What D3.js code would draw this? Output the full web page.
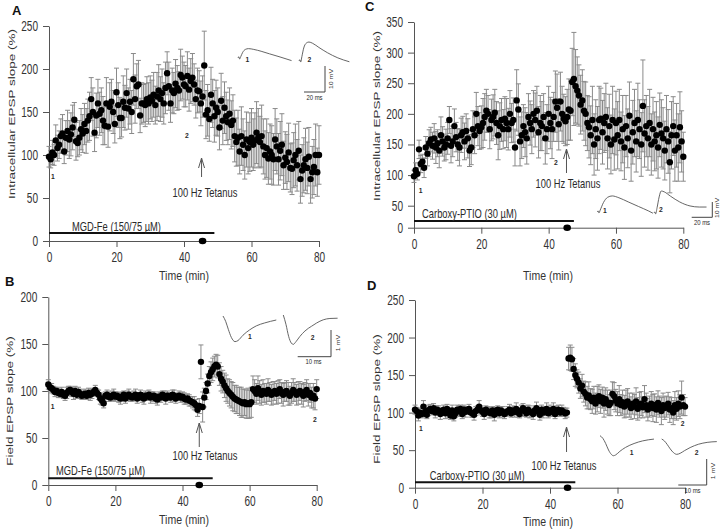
<!DOCTYPE html>
<html><head><meta charset="utf-8">
<script src="https://cdn.jsdelivr.net/npm/d3@7"></script>
<style>
body{margin:0;background:#fff}
text{font-family:"Liberation Sans",Arial,Helvetica,sans-serif;fill:#222}
</style>
</head><body>
<svg id="fig" width="720" height="530"></svg>
<script>
// ---------------- DATA ----------------
const STEP_MIN = 0.5;            // sampling interval of the plotted points (min)
const xTicks = [0, 20, 40, 60, 80];
const yTicksA = [0, 50, 100, 150, 200, 250];
const yTicksB = [0, 50, 100, 150, 200];
const yTicksC = [0, 50, 100, 150, 200, 250, 300, 350];
const yTicksD = [0, 50, 100, 150, 200, 250];

const meanA = [
 98,95,103,100,117,108,112,122,125,104,
 120,128,118,124,132,141,116,114,120,130,
 125,136,128,140,145,165,150,126,146,160,
 148,152,140,134,160,133,156,162,150,136,
 173,158,143,143,162,155,172,154,162,150,
 188,165,180,182,146,160,160,158,165,160,
 167,163,170,158,168,175,165,172,160,178,
 195,180,160,175,172,183,178,175,193,190,
 182,180,192,176,186,190,182,165,175,174,
 160,168,204,147,152,142,170,160,145,155,
 150,132,163,140,155,145,138,148,135,140,
 122,115,120,104,122,112,100,118,108,115,
 120,112,117,126,120,115,122,110,100,108,
 96,104,100,95,118,110,95,105,112,88,
 97,92,103,85,84,94,100,88,105,72,
 82,88,95,85,98,72,80,86,100,80,
 100];
const errA = [
 12,10,14,12,18,15,16,20,22,14,
 20,24,22,25,26,20,22,16,20,24,
 22,24,26,25,28,25,28,22,26,28,
 25,26,28,22,30,24,28,26,25,22,
 28,26,24,22,30,26,28,24,26,25,
 30,28,26,28,20,24,22,25,26,24,
 25,24,26,22,28,30,26,28,24,30,
 25,28,22,26,24,28,26,22,30,25,
 26,24,28,25,26,28,24,22,26,24,
 26,24,40,28,30,26,32,28,30,32,
 28,26,32,28,30,28,26,30,28,30,
 30,28,32,26,34,30,28,32,30,34,
 34,30,32,36,34,30,36,32,28,34,
 30,32,34,30,36,32,30,34,36,28,
 30,32,34,28,30,32,36,30,34,28,
 30,32,36,30,34,28,30,32,36,28,
 34];

const meanB = [
 107,104,103,101,99,100,98,97,99,96,
 95,98,100,101,99,97,100,96,99,97,
 95,96,97,95,98,96,97,99,101,98,
 96,92,90,87,95,96,94,93,95,96,
 94,95,93,92,94,96,92,95,96,94,
 93,95,96,92,94,96,93,92,95,94,
 96,93,94,95,92,91,94,93,96,95,
 92,95,94,93,96,95,92,94,95,93,
 94,92,91,92,90,89,88,87,85,80,
 84,131,83,93,100,108,116,120,123,126,
 128,126,118,113,110,106,103,100,98,96,
 94,92,91,90,89,88,87,88,86,87,
 86,88,102,100,97,103,99,96,100,98,
 97,101,99,96,98,100,97,99,102,98,
 96,99,100,97,95,98,101,99,96,98,
 100,97,95,99,101,96,98,93,95,92,
 102];
const errB = [
 5,4,5,4,5,4,5,4,5,4,
 5,6,5,4,5,6,5,4,5,5,
 4,5,5,4,5,6,5,4,5,4,
 5,6,5,5,4,5,5,4,5,6,
 5,4,5,6,5,4,5,5,6,5,
 4,5,6,5,4,5,5,6,5,4,
 5,6,5,4,5,6,5,5,4,5,
 6,5,4,5,5,6,5,4,5,5,
 5,6,5,5,6,5,6,7,6,7,
 8,18,16,10,9,10,10,11,12,11,
 11,12,12,13,12,13,14,13,14,14,
 15,14,15,14,15,16,15,14,15,16,
 15,16,14,12,11,13,12,11,12,10,
 11,12,10,11,12,10,11,12,10,11,
 12,10,11,12,10,11,12,10,11,12,
 10,11,12,10,11,12,10,11,13,12,
 10];

const meanC = [
 98,108,102,142,118,122,112,145,135,152,
 158,148,160,145,152,140,165,155,145,150,
 160,190,148,155,180,162,150,145,165,170,
 155,172,160,140,145,175,165,200,180,172,
 178,185,195,205,200,175,190,195,202,185,
 165,180,190,175,192,185,175,200,185,190,
 145,222,207,155,165,180,170,160,195,185,
 175,200,190,205,170,185,180,195,160,175,
 200,185,175,195,220,210,183,220,200,192,
 188,195,207,205,252,257,245,238,230,215,
 222,205,200,185,178,165,190,150,175,160,
 190,192,170,185,195,160,180,150,190,158,
 185,165,190,155,175,145,180,160,197,140,
 170,185,155,190,175,150,213,168,180,160,
 185,150,175,155,165,145,182,168,160,140,
 175,155,121,165,180,140,165,145,178,155,
 130];
const errC = [
 10,12,10,15,14,12,16,18,20,22,
 20,22,24,26,22,28,30,24,22,25,
 26,22,28,25,28,24,26,30,28,26,
 30,28,32,26,28,30,30,35,32,30,
 35,40,38,35,30,32,34,36,38,35,
 40,38,35,32,36,40,34,38,32,36,
 30,50,42,40,38,35,40,42,38,36,
 40,38,44,40,42,45,40,38,42,40,
 45,42,48,40,50,55,42,48,45,40,
 40,45,50,48,55,76,60,55,50,48,
 50,48,52,45,50,48,55,50,48,52,
 55,50,52,48,55,50,52,48,55,50,
 52,55,50,48,55,52,50,48,55,50,
 52,55,50,60,48,52,75,55,50,52,
 55,50,52,48,55,50,52,55,50,48,
 55,52,50,55,48,50,52,55,58,50,
 40];

const meanD = [
 104,102,96,100,98,108,101,97,103,105,
 102,106,100,104,103,98,101,104,99,105,
 100,96,103,95,99,104,102,105,98,104,
 101,103,105,100,99,97,102,104,108,103,
 101,98,104,102,100,99,103,97,101,104,
 99,103,101,98,100,102,104,99,103,101,
 105,100,98,103,106,102,99,104,101,100,
 98,103,106,101,97,104,100,102,105,99,
 103,101,105,98,102,104,100,103,101,99,
 100,172,173,171,158,150,145,140,132,136,
 128,125,120,123,118,115,120,112,118,122,
 115,120,112,118,114,110,113,125,122,116,
 112,118,110,114,108,112,115,110,106,112,
 108,115,105,110,112,107,118,110,104,108,
 112,106,110,104,113,108,102,110,106,108,
 112,104,106,100,110,105,112,108,120,110,
 108];
const errD = [
 6,5,7,6,5,8,6,5,7,6,
 5,6,7,5,6,7,5,6,7,6,
 6,5,7,6,5,6,7,5,6,6,
 7,5,6,6,5,7,6,5,8,6,
 6,7,5,6,7,6,5,8,6,5,
 6,5,7,6,5,6,7,5,6,7,
 8,6,5,7,6,7,5,6,8,6,
 7,6,8,5,7,6,7,6,8,6,
 7,6,8,6,7,6,5,7,6,7,
 6,15,17,16,14,15,12,14,13,15,
 14,16,15,18,14,16,15,14,17,15,
 16,14,18,15,16,14,17,16,18,15,
 16,18,14,16,15,18,17,16,15,14,
 16,18,15,17,16,14,18,16,15,14,
 16,18,15,17,16,14,18,16,15,14,
 15,17,14,16,18,15,17,16,22,14,
 12];

// drug application bars (min) and labels
const drugA = {label: "MGD-Fe (150/75 µM)", start: 0, end: 49, labelAt: 6.8};
const drugB = {label: "MGD-Fe (150/75 µM)", start: 0, end: 49, labelAt: 2.3};
const drugC = {label: "Carboxy-PTIO (30 µM)", start: 0, end: 47.5, labelAt: 2.4};
const drugD = {label: "Carboxy-PTIO (30 µM)", start: 0, end: 47.5, labelAt: 4.4};
const tetanusLabel = "100 Hz Tetanus";
const tetanusMin = [45.2, 45.0, 45.3, 44.9];   // A, B, C, D
const markerMin  = [45.5, 45.0, 45.5, 45.2];   // filled dot on the time axis

// sample traces [ms, mV]
const traceA1 = [[0,0],[0.8,0.5],[1.6,-0.4],[2.6,0.5],[4.5,2.2],[7,3.3],[10,3.6],[15,3.3],[22,2.6],[30,1.6],[40,0.4],[51,-1.0]];
const traceA2 = [[0,0],[0.8,0.5],[1.6,-0.4],[2.8,1.8],[4.5,5.0],[7,6.9],[9.5,7.3],[13,6.8],[19,5.2],[27,3.2],[37,1.2],[48,-0.3]];
const traceC1 = [[0,0],[0.8,0.7],[1.6,-0.6],[2.8,1.2],[6,6.2],[10,9.6],[14.5,10.5],[21,9.3],[30,6.6],[40,3.6],[50,0.6],[54,-0.8]];
const traceC2 = [[0,0],[0.8,0.7],[1.6,-0.6],[3,3.5],[5,10.5],[7,14.4],[10,13.8],[16,11],[25,7.2],[35,4.6],[44,3.9],[51,3.9]];
const traceB1 = [[0,0],[0.8,-0.2],[1.6,-0.5],[2.5,-0.8],[3.6,-0.96],[4.5,-0.92],[6,-0.72],[8,-0.52],[10,-0.37],[12.5,-0.26],[16,-0.15]];
const traceB2 = [[0,0],[0.8,-0.35],[1.6,-0.8],[2.4,-1.05],[3.0,-1.1],[3.8,-1.0],[5,-0.8],[6.5,-0.6],[7.5,-0.5],[8.5,-0.42],[10,-0.3],[12,-0.18],[14,-0.13],[16.3,-0.12]];
const traceD1 = [[0,0],[1,-0.1],[2,-0.3],[3,-0.55],[4,-0.72],[4.7,-0.77],[5.5,-0.74],[7,-0.6],[9,-0.45],[12,-0.3],[15,-0.2],[19,-0.13]];
const traceD2 = [[0,0],[1,-0.08],[2,-0.22],[3,-0.38],[4.2,-0.53],[5.3,-0.59],[6.5,-0.55],[8,-0.45],[10,-0.33],[13,-0.2],[16,-0.13],[19.4,-0.1]];
const scaleBarIntra = {ms: 20, mv: 10, msLabel: "20 ms", mvLabel: "10 mV"};
const scaleBarField = {ms: 10, mv: 1, msLabel: "10 ms", mvLabel: "1 mV"};

// ---------------- RENDER ----------------
const svg = d3.select("#fig");
const AX = "#555", ERR = "#8a8a8a", TXT = "#2a2a2a";
const SX = 0.72; // horizontal text compression of the original figure

function label(g, x, y, s, o = {}) {
  const size = o.size || 13, sx = o.sx === undefined ? SX : o.sx;
  let t = `translate(${x},${y})`;
  t += o.rotate ? ` rotate(${o.rotate}) scale(1,${sx})` : ` scale(${sx},1)`;
  return g.append("text").attr("transform", t)
    .attr("text-anchor", o.anchor || "start")
    .attr("dominant-baseline", o.baseline || "auto")
    .attr("font-size", size).attr("font-weight", o.weight || "normal")
    .style("fill", o.fill || TXT).text(s);
}

function drawTrace(g, pts, ox, oy, pxMs, pxMv) {
  const xs = d3.scaleLinear().domain([0, 1]).range([ox, ox + pxMs]);
  const ys = d3.scaleLinear().domain([0, 1]).range([oy, oy - pxMv]);
  g.append("path").attr("d", d3.line().x(d => xs(d[0])).y(d => ys(d[1])).curve(d3.curveMonotoneX)(pts))
    .attr("fill", "none").attr("stroke", "#555").attr("stroke-width", 0.9);
}
function drawScaleBar(g, sb, cx, cy, pxMs, pxMv, msLab, mvLab) {
  const w = sb.ms * pxMs, h = sb.mv * pxMv;
  g.append("path").attr("d", `M${cx - w},${cy}H${cx}V${cy - h}`)
    .attr("fill", "none").attr("stroke", "#444").attr("stroke-width", 1);
  label(g, msLab[0], msLab[1], sb.msLabel, {size: 7, anchor: "middle", baseline: "central", sx: 0.85});
  label(g, mvLab[0], mvLab[1], sb.mvLabel, {size: 7, anchor: "middle", baseline: "central", rotate: -90, sx: 0.85});
}

const panels = [
  {letter: "A", L: [12, 15], mean: meanA, err: errA, yTicks: yTicksA, yDom: [0, 250], yRng: [241, 26], xRng: [49, 319],
   ylab: "Intracellular EPSP slope (%)", ylabPos: [11, 114], tlabPos: [184, 276], drug: drugA, drugOff: 8, drugTxt: 2.5,
   tet: tetanusMin[0], mark: markerMin[0], arrow: [158, 177], tetTxt: [205, 196.5], n1: [53, 177], n2: [187, 136],
   traces: [[traceA1, 238, 58], [traceA2, 299, 61]], pxMs: 1.05, pxMv: 2.6, sb: scaleBarIntra, sbC: [325, 92],
   sbMs: [314.5, 97.5], sbMv: [331, 79], tl1: [247.5, 60], tl2: [309.5, 60]},
  {letter: "B", L: [5, 286], mean: meanB, err: errB, yTicks: yTicksB, yDom: [0, 200], yRng: [485, 297], xRng: [48.3, 316.7],
   ylab: "Field EPSP slope (%)", ylabPos: [9.5, 401], tlabPos: [184, 520], drug: drugB, drugOff: 6.7, drugTxt: 3.3,
   tet: tetanusMin[1], mark: markerMin[1], arrow: [423, 447], tetTxt: [205, 460], n1: [52.7, 406.7], n2: [315, 420],
   traces: [[traceB1, 223, 316], [traceB2, 283.3, 315]], pxMs: 3.33, pxMv: 26.7, sb: scaleBarField, sbC: [331, 356.7],
   sbMs: [313.5, 361], sbMv: [337.5, 343], tl1: [250, 337], tl2: [312.7, 338]},
  {letter: "C", L: [365, 10.5], mean: meanC, err: errC, yTicks: yTicksC, yDom: [0, 50, 350], yRng: [227.7, 205.7, 22], xRng: [414, 683.3],
   ylab: "Intracellular EPSP slope (%)", ylabPos: [376, 116], tlabPos: [548, 276], drug: drugC, drugOff: 6.7, drugTxt: 3.5,
   tet: tetanusMin[2], mark: markerMin[2], arrow: [149, 173], tetTxt: [568, 187.5], n1: [420.7, 190.7], n2: [556, 162.7],
   traces: [[traceC1, 597.3, 212], [traceC2, 654, 213]], pxMs: 1.03, pxMv: 1.53, sb: scaleBarIntra, sbC: [712.3, 217.3],
   sbMs: [702, 222.5], sbMv: [717, 208], tl1: [605, 210.7], tl2: [661, 210]},
  {letter: "D", L: [367, 290], mean: meanD, err: errD, yTicks: yTicksD, yDom: [0, 250], yRng: [487.7, 300], xRng: [415, 685],
   ylab: "Field EPSP slope (%)", ylabPos: [376, 399], tlabPos: [548, 522], drug: drugD, drugOff: 5.5, drugTxt: 2.5,
   tet: tetanusMin[3], mark: markerMin[3], arrow: [427, 452], tetTxt: [564, 469.5], n1: [421, 429], n2: [682.7, 424.3],
   traces: [[traceD1, 600, 435.7], [traceD2, 661.7, 439]], pxMs: 2.84, pxMv: 26, sb: scaleBarField, sbC: [706.7, 485],
   sbMs: [692.5, 490], sbMv: [712.5, 471], tl1: [631.7, 453.3], tl2: [696.7, 452.7]}
];

panels.forEach(p => {
  const g = svg.append("g");
  const x = d3.scaleLinear().domain([0, 80]).range(p.xRng);
  const y = d3.scaleLinear().domain(p.yDom).range(p.yRng);
  const y0 = y(0);

  // axes
  const ya = g.append("g").attr("transform", `translate(${p.xRng[0]},0)`)
    .call(d3.axisLeft(y).tickValues(p.yTicks).tickSize(6).tickPadding(5).tickSizeOuter(0));
  const xa = g.append("g").attr("transform", `translate(0,${y0})`)
    .call(d3.axisBottom(x).tickValues(xTicks).tickSize(6).tickPadding(5).tickSizeOuter(0));
  [ya, xa].forEach(a => {
    a.selectAll("path,line").attr("stroke", AX).attr("stroke-width", 1);
    a.selectAll("text").attr("font-size", 14).style("fill", "#333")
      .attr("font-family", '"Liberation Sans",Arial,sans-serif');
  });
  ya.selectAll("text").attr("x", 0).attr("transform", `translate(-11,0) scale(${SX},1)`);
  xa.selectAll("text").attr("transform", `scale(${SX},1)`);

  // labels
  label(g, p.L[0], p.L[1], p.letter, {size: 13, weight: "bold", sx: 1, fill: "#111"});
  label(g, p.ylabPos[0], p.ylabPos[1], p.ylab, {size: 13.5, anchor: "middle", baseline: "central", rotate: -90, fill: "#333"});
  label(g, p.tlabPos[0], p.tlabPos[1], "Time (min)", {size: 13.5, anchor: "middle", baseline: "central", sx: 0.78, fill: "#333"});

  // drug bar
  const by = y0 - p.drugOff;
  g.append("line").attr("x1", x(p.drug.start)).attr("x2", x(p.drug.end)).attr("y1", by).attr("y2", by)
    .attr("stroke", "#111").attr("stroke-width", 2);
  label(g, x(p.drug.labelAt), by - p.drugTxt, p.drug.label, {size: 13});
  g.append("ellipse").attr("cx", x(p.mark)).attr("cy", y0).attr("rx", 3.8).attr("ry", 3.3).attr("fill", "#000");

  // tetanus arrow
  const ax = x(p.tet);
  g.append("path").attr("d", `M${ax},${p.arrow[1]}V${p.arrow[0]}M${ax - 3},${p.arrow[0] + 10}L${ax},${p.arrow[0]}L${ax + 3},${p.arrow[0] + 10}`)
    .attr("fill", "none").attr("stroke", "#555").attr("stroke-width", 1);
  label(g, p.tetTxt[0], p.tetTxt[1], tetanusLabel, {size: 13, anchor: "middle"});

  // numbers
  [[p.n1, "1"], [p.n2, "2"], [p.tl1, "1"], [p.tl2, "2"]].forEach(([pos, s]) =>
    label(g, pos[0], pos[1], s, {size: 7.5, weight: "bold", anchor: "middle", baseline: "central", sx: 0.9}));

  // data
  const pts = p.mean.map((m, i) => ({t: i * STEP_MIN, m, e: p.err[i]}));
  const eb = g.append("g").attr("stroke", ERR).attr("stroke-width", 1).attr("fill", "none");
  eb.selectAll("path").data(pts).join("path")
    .attr("d", d => {
      const cx = x(d.t), hi = y(d.m + d.e), lo = y(d.m - d.e);
      return `M${cx},${lo}V${hi}M${cx - 2.5},${hi}H${cx + 2.5}M${cx - 2.5},${lo}H${cx + 2.5}`;
    });
  g.append("g").selectAll("circle").data(pts).join("circle")
    .attr("cx", d => x(d.t)).attr("cy", d => y(d.m)).attr("r", 3.2).attr("fill", "#000");

  // traces & scale bars
  p.traces.forEach(([tr, ox, oy]) => drawTrace(g, tr, ox, oy, p.pxMs, p.pxMv));
  drawScaleBar(g, p.sb, p.sbC[0], p.sbC[1], p.pxMs, p.pxMv, p.sbMs, p.sbMv);
});
</script>
</body></html>
